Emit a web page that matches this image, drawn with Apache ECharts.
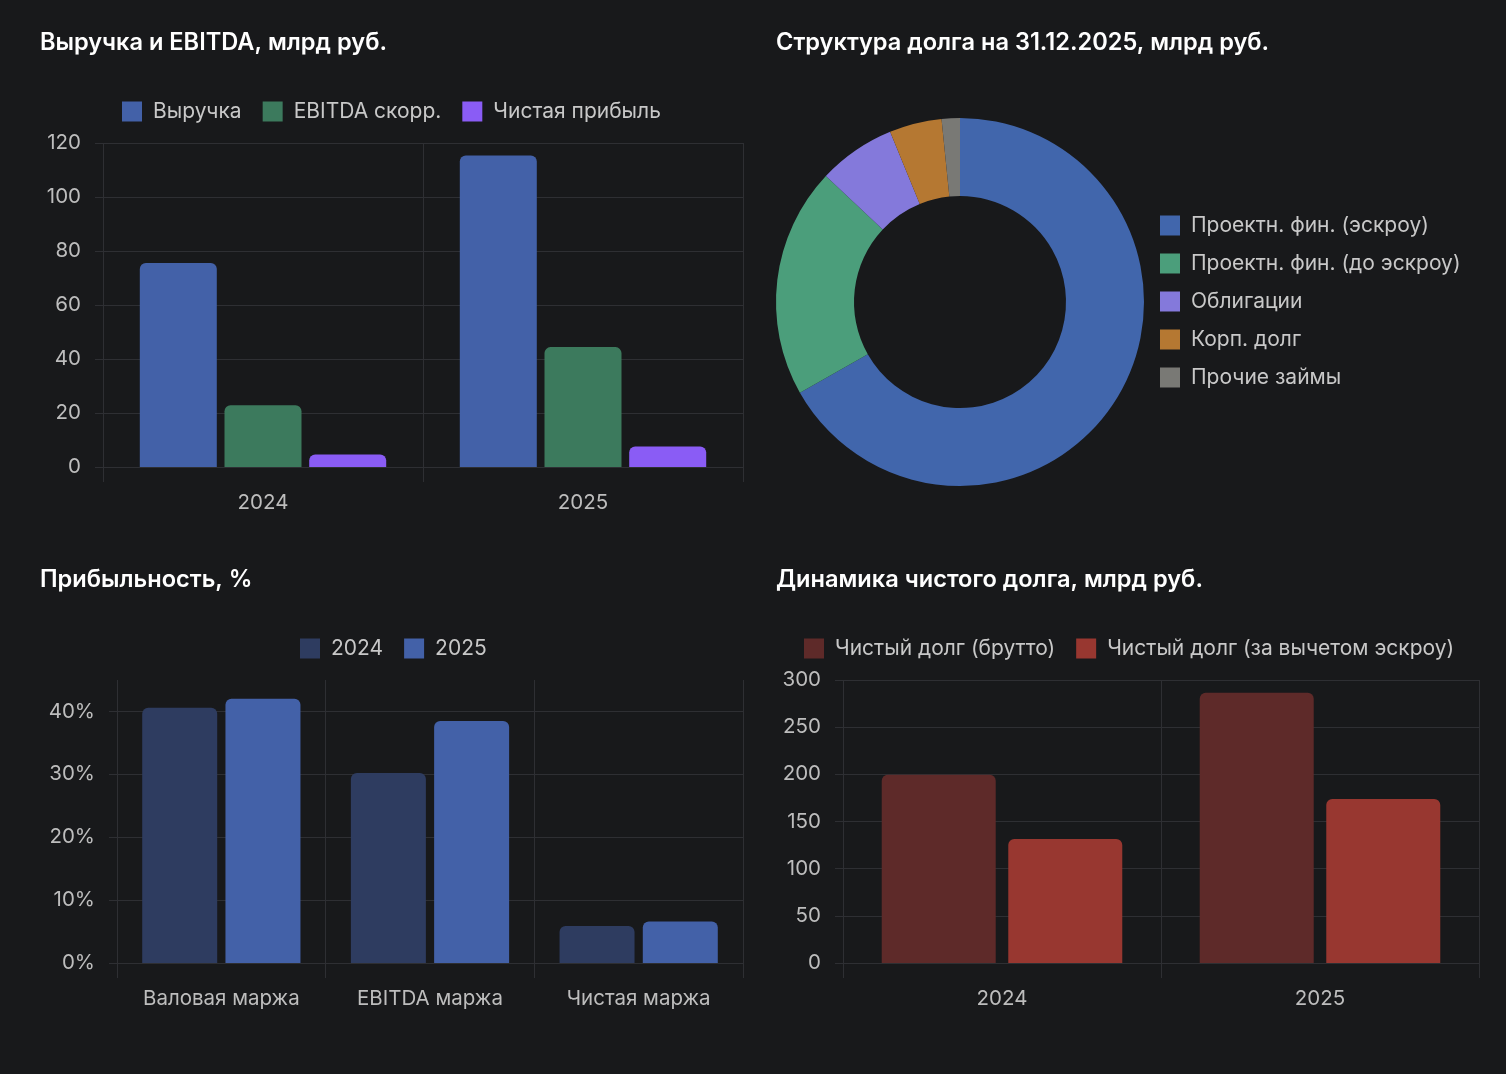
<!DOCTYPE html>
<html>
<head>
    <meta charset="utf-8">
    <title>Финансовые показатели</title>
    <script src="https://cdn.jsdelivr.net/npm/echarts@6/dist/echarts.min.js"></script>
    <style>
        html, body { margin: 0; padding: 0; background: #18191b; }
        #main { width: 1506px; height: 1074px; }
    </style>
</head>
<body>
<div id="main"></div>
<script>
    // данные
    var years = ['2024', '2025'];
    var revenue = [75.6, 115.4];
    var ebitdaAdj = [22.9, 44.4];
    var netProfit = [4.6, 7.6];

    var debtNames = ['Проектн. фин. (эскроу)', 'Проектн. фин. (до эскроу)', 'Облигации', 'Корп. долг', 'Прочие займы'];
    var debtShares = [66.8, 20.2, 6.8, 4.6, 1.6];
    var debtColors = ['#4166ac', '#4b9e7b', '#8479db', '#b57832', '#797975'];

    var marginCats = ['Валовая маржа', 'EBITDA маржа', 'Чистая маржа'];
    var margin2024 = [40.6, 30.2, 5.9];
    var margin2025 = [42.0, 38.5, 6.6];

    var netDebtGross = [199.5, 286.6];
    var netDebtEscrow = [131.5, 173.8];

    var FONT = 'Inter, "Noto Sans", sans-serif';
    var GRID = '#2e2f33';
    var LABEL = '#bdbdbd';

    var chart = echarts.init(document.getElementById('main'));

    function titleAt(text, left, top) {
        return {
            text: text, left: left, top: top, padding: 0,
            textStyle: { color: '#ffffff', fontSize: 23.6, fontWeight: 600, fontFamily: FONT }
        };
    }

    function legendAt(names, left, top, vertical) {
        return {
            data: names, left: left, top: top, padding: 0,
            orient: vertical ? 'vertical' : 'horizontal',
            icon: 'rect', itemWidth: 20, itemHeight: 20,
            itemGap: vertical ? 17 : 21,
            textStyle: { color: '#c8c8c8', fontSize: 21, fontFamily: FONT, padding: [0, 0, 0, 6] }
        };
    }

    function catAxis(idx, data, margin) {
        return {
            type: 'category', gridIndex: idx, data: data,
            axisLine: { show: false },
            axisTick: { show: true, length: 15, lineStyle: { color: GRID } },
            splitLine: { show: true, lineStyle: { color: GRID } },
            axisLabel: { color: LABEL, fontSize: 20.5, fontFamily: FONT, margin: margin }
        };
    }

    function valAxis(idx, max, interval, fmt, splitColors) {
        return {
            type: 'value', gridIndex: idx, min: 0, max: max, interval: interval,
            axisLine: { show: false },
            axisTick: { show: true, length: 8, lineStyle: { color: GRID } },
            splitLine: { show: true, lineStyle: { color: splitColors || GRID } },
            axisLabel: { color: LABEL, fontSize: 20.5, fontFamily: FONT, margin: 22, formatter: fmt, showMaxLabel: max % interval === 0 }
        };
    }

    function bar(name, data, color, idx, width, gap) {
        return {
            name: name, type: 'bar', xAxisIndex: idx, yAxisIndex: idx,
            data: data, barWidth: width, barGap: gap,
            itemStyle: { color: color, borderRadius: [6, 6, 0, 0] }
        };
    }

    var option = {
        backgroundColor: '#18191b',
        animation: false,
        title: [
            titleAt('Выручка и EBITDA, млрд руб.', 40, 31),
            titleAt('Структура долга на 31.12.2025, млрд руб.', 776, 31),
            titleAt('Прибыльность, %', 40, 568),
            titleAt('Динамика чистого долга, млрд руб.', 776, 568)
        ],
        legend: [
            legendAt(['Выручка', 'EBITDA скорр.', 'Чистая прибыль'], 122, 101),
            legendAt(debtNames, 1160, 215, true),
            legendAt(['2024', '2025'], 300, 638),
            legendAt(['Чистый долг (брутто)', 'Чистый долг (за вычетом эскроу)'], 804, 638)
        ],
        grid: [
            { left: 103, top: 143, width: 640, height: 324 },
            { left: 117, top: 680, width: 626, height: 283 },
            { left: 843, top: 680, width: 636, height: 283 }
        ],
        xAxis: [
            catAxis(0, years, 25),
            catAxis(1, marginCats, 25),
            catAxis(2, years, 25)
        ],
        yAxis: [
            valAxis(0, 120, 20, '{value}'),
            valAxis(1, 45, 10, '{value}%', [GRID, GRID, GRID, GRID, GRID, 'rgba(0,0,0,0)']),
            valAxis(2, 300, 50, '{value}')
        ],
        series: [
            bar('Выручка', revenue, '#4361a8', 0, 77, '10%'),
            bar('EBITDA скорр.', ebitdaAdj, '#3c7a5d', 0, 77, '10%'),
            bar('Чистая прибыль', netProfit, '#8a5cf5', 0, 77, '10%'),
            bar('2024', margin2024, '#2e3c60', 1, 75, '11%'),
            bar('2025', margin2025, '#4361a8', 1, 75, '11%'),
            bar('Чистый долг (брутто)', netDebtGross, '#5e2a29', 2, 114, '11%'),
            bar('Чистый долг (за вычетом эскроу)', netDebtEscrow, '#983730', 2, 114, '11%'),
            {
                name: 'Структура долга', type: 'pie',
                center: [960, 302], radius: [106, 184],
                startAngle: 90, clockwise: true,
                label: { show: false }, labelLine: { show: false },
                itemStyle: { borderWidth: 0 },
                data: debtNames.map(function (n, i) {
                    return { name: n, value: debtShares[i], itemStyle: { color: debtColors[i] } };
                })
            }
        ]
    };

    chart.setOption(option);
</script>
</body>
</html>
